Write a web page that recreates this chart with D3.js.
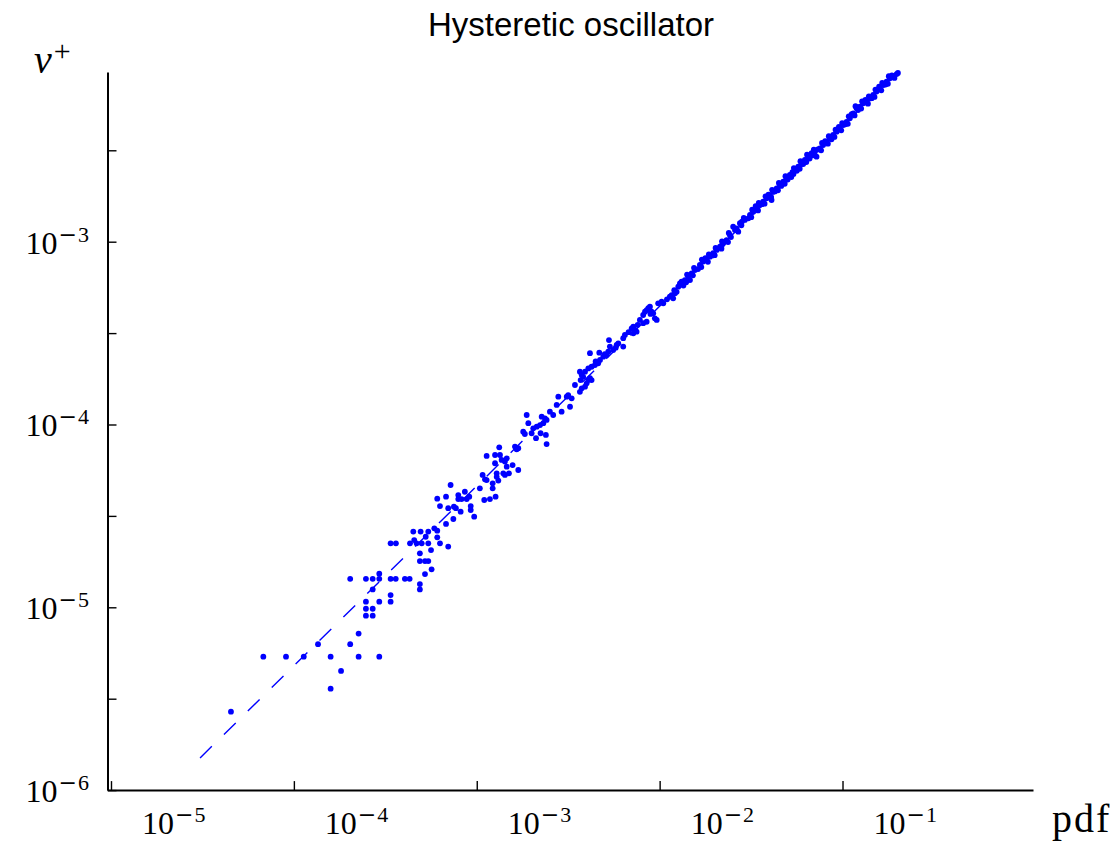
<!DOCTYPE html>
<html>
<head>
<meta charset="utf-8">
<script src="https://cdn.jsdelivr.net/npm/d3@7"></script>
<style>
  body { margin: 0; background: #fff; }
  svg { display: block; }
</style>
</head>
<body>
<svg id="chart" width="1118" height="842"></svg>
<script>
// Sample points as [log10(pdf), log10(nu+)].
// Sparse tail: few crossings, so nu+ is visibly quantised.
const tailPoints = [
  [-4.344,-5.571],[-4.167,-5.270],[-4.043,-5.270],[-3.946,-5.270],[-3.799,-5.270],
  [-3.646,-5.270],[-3.533,-5.270],[-3.742,-5.348],[-3.799,-5.445],[-3.868,-5.202],
  [-3.692,-5.202],[-3.646,-5.144],[-3.606,-5.046],[-3.569,-5.046],[-3.606,-5.008],
  [-3.569,-5.008],[-3.606,-4.969],[-3.533,-4.969],[-3.471,-4.969],[-3.471,-4.933],
  [-3.569,-4.902],[-3.692,-4.844],[-3.606,-4.844],[-3.569,-4.844],[-3.533,-4.844],
  [-3.533,-4.816],[-3.471,-4.844],[-3.443,-4.844],[-3.393,-4.844],[-3.367,-4.844],
  [-3.311,-4.873],[-3.311,-4.902]
];

// Intermediate range: scatter narrows as the crossing count grows.
const midPoints = [
  [-3.283,-4.818],[-3.247,-4.792],[-3.311,-4.747],[-3.283,-4.747],[-3.265,-4.747],
  [-3.311,-4.705],[-3.250,-4.687],[-3.471,-4.650],[-3.442,-4.650],[-3.365,-4.650],
  [-3.329,-4.650],[-3.301,-4.650],[-3.265,-4.650],[-3.347,-4.586],[-3.307,-4.586],
  [-3.265,-4.586],[-3.342,-4.632],[-3.279,-4.614],[-3.232,-4.568],[-3.216,-4.581],
  [-3.216,-4.617],[-3.201,-4.650],[-3.156,-4.668],[-3.168,-4.544],[-3.128,-4.517],
  [-3.201,-4.446],[-3.216,-4.406],[-3.168,-4.395],[-3.143,-4.331],[-3.156,-4.458],
  [-3.125,-4.450],[-3.114,-4.458],[-3.101,-4.386],[-3.101,-4.408],[-3.083,-4.408],
  [-3.065,-4.368],[-3.055,-4.408],[-3.041,-4.395],[-3.088,-4.477],[-3.033,-4.446],
  [-3.033,-4.468],[-3.014,-4.504],[-2.983,-4.349],[-2.968,-4.276],[-2.955,-4.300],
  [-2.946,-4.304],[-2.959,-4.413],[-2.928,-4.408],[-2.897,-4.395],[-2.913,-4.322],
  [-2.913,-4.349],[-2.891,-4.286],[-2.882,-4.307],[-2.891,-4.267],[-2.946,-4.172],
  [-2.900,-4.167],[-2.873,-4.167],[-2.864,-4.194],[-2.900,-4.212],[-2.877,-4.125],
  [-2.846,-4.203],[-2.836,-4.185],[-2.836,-4.231],[-2.855,-4.267],[-2.846,-4.276],
  [-2.824,-4.267],[-2.804,-4.222],[-2.773,-4.249],[-2.791,-4.121],[-2.782,-4.136],
  [-2.773,-4.130],[-2.746,-4.039],[-2.737,-4.052],[-2.718,-3.993],[-2.700,-4.048],
  [-2.691,-4.021],[-2.672,-4.012],[-2.654,-4.003],[-2.636,-3.993],[-2.618,-3.975],
  [-2.676,-4.075],[-2.651,-4.048],[-2.622,-4.057],[-2.618,-4.107],[-2.727,-3.948],
  [-2.645,-3.957],[-2.627,-3.966],[-2.600,-3.930],[-2.582,-3.948],[-2.563,-3.893],
  [-2.554,-3.848],[-2.536,-3.930],[-2.508,-3.848],[-2.500,-3.839],[-2.490,-3.903],
  [-2.481,-3.857],[-2.463,-3.784],[-2.436,-3.821],[-2.426,-3.802],[-2.408,-3.793],
  [-2.399,-3.775],[-2.390,-3.757],[-2.381,-3.747],[-2.372,-3.757],[-2.432,-3.757],
  [-2.436,-3.711],[-2.426,-3.729],[-2.418,-3.739],[-2.408,-3.711],[-2.390,-3.693],
  [-2.372,-3.684],[-2.354,-3.675],[-2.336,-3.665],[-2.381,-3.610],[-2.330,-3.607],
  [-2.326,-3.647],[-2.308,-3.629],[-2.290,-3.620],[-2.281,-3.602],[-2.272,-3.574],
  [-2.277,-3.538],[-2.254,-3.592],[-2.235,-3.565],[-2.226,-3.556],[-2.199,-3.574],
  [-2.199,-3.528],[-2.190,-3.510],[-2.153,-3.474],[-2.144,-3.465],[-2.135,-3.483],
  [-2.126,-3.492],[-2.144,-3.501],[-2.108,-3.428],[-2.090,-3.401],[-2.080,-3.383],
  [-2.071,-3.374],[-2.062,-3.364],[-2.053,-3.356],[-2.044,-3.383],[-2.035,-3.392],
  [-2.026,-3.419],[-2.016,-3.428],[-2.090,-3.446],[-2.071,-3.438],[-2.008,-3.337],
  [-1.989,-3.328],[-1.980,-3.337],[-1.944,-3.301],[-1.934,-3.292],[-1.926,-3.310],
  [-1.916,-3.282],[-1.907,-3.274],[-1.898,-3.246],[-1.889,-3.228],[-1.880,-3.219],
  [-2.350,-3.655],[-2.300,-3.615],[-2.240,-3.580],[-2.170,-3.495],[-2.120,-3.455],
  [-2.050,-3.395],[-1.960,-3.315],[-1.920,-3.265],[-1.870,-3.240]
];

// Dense range: many crossings, points collapse onto a narrow band.
const bandPoints = [
  [-1.862,-3.210],[-1.855,-3.222],[-1.844,-3.191],[-1.850,-3.180],[-1.834,-3.210],
  [-1.825,-3.173],[-1.818,-3.184],[-1.807,-3.155],[-1.812,-3.143],[-1.780,-3.127],
  [-1.772,-3.139],[-1.762,-3.109],[-1.769,-3.098],[-1.743,-3.100],[-1.736,-3.110],
  [-1.725,-3.082],[-1.731,-3.070],[-1.707,-3.063],[-1.699,-3.074],[-1.688,-3.045],
  [-1.694,-3.034],[-1.670,-3.027],[-1.662,-3.038],[-1.652,-3.009],[-1.659,-2.998],
  [-1.634,-2.991],[-1.626,-3.002],[-1.616,-2.963],[-1.622,-2.952],[-1.598,-2.918],
  [-1.579,-2.927],[-1.570,-2.945],[-1.588,-2.936],[-1.561,-2.899],[-1.553,-2.910],
  [-1.534,-2.881],[-1.540,-2.870],[-1.506,-2.854],[-1.499,-2.866],[-1.488,-2.836],
  [-1.494,-2.825],[-1.470,-2.817],[-1.462,-2.829],[-1.452,-2.799],[-1.458,-2.788],
  [-1.434,-2.781],[-1.426,-2.792],[-1.415,-2.763],[-1.421,-2.752],[-1.397,-2.745],
  [-1.390,-2.756],[-1.388,-2.772],[-1.379,-2.727],[-1.385,-2.716],[-1.360,-2.708],
  [-1.353,-2.719],[-1.342,-2.690],[-1.348,-2.679],[-1.324,-2.672],[-1.316,-2.683],
  [-1.306,-2.653],[-1.312,-2.642],[-1.288,-2.635],[-1.280,-2.646],[-1.274,-2.620],
  [-1.268,-2.630],[-1.260,-2.608],[-1.266,-2.597],[-1.242,-2.590],[-1.234,-2.601],
  [-1.224,-2.571],[-1.230,-2.560],[-1.206,-2.553],[-1.198,-2.564],[-1.188,-2.535],
  [-1.194,-2.524],[-1.169,-2.516],[-1.162,-2.527],[-1.151,-2.508],[-1.157,-2.497],
  [-1.142,-2.535],[-1.124,-2.489],[-1.117,-2.500],[-1.106,-2.471],[-1.112,-2.460],
  [-1.087,-2.453],[-1.080,-2.464],[-1.069,-2.434],[-1.075,-2.423],[-1.051,-2.416],
  [-1.044,-2.427],[-1.032,-2.398],[-1.038,-2.387],[-1.014,-2.380],[-1.007,-2.391],
  [-0.996,-2.362],[-1.002,-2.351],[-0.978,-2.344],[-0.971,-2.355],[-0.960,-2.325],
  [-0.966,-2.314],[-0.941,-2.298],[-0.934,-2.309],[-0.923,-2.270],[-0.929,-2.259],
  [-0.905,-2.261],[-0.898,-2.272],[-0.887,-2.243],[-0.893,-2.232],[-0.868,-2.234],
  [-0.861,-2.245],[-0.850,-2.216],[-0.856,-2.205],[-0.832,-2.197],[-0.825,-2.208],
  [-0.814,-2.179],[-0.820,-2.168],[-0.795,-2.161],[-0.788,-2.172],[-0.777,-2.143],
  [-0.783,-2.132],[-0.759,-2.125],[-0.752,-2.136],[-0.741,-2.106],[-0.747,-2.095],
  [-0.723,-2.094],[-0.716,-2.104],[-0.704,-2.083],[-0.697,-2.077],
  [-1.790,-3.150],[-1.750,-3.090],[-1.710,-3.075],[-1.660,-3.020],[-1.610,-2.975],
  [-1.550,-2.890],[-1.515,-2.872],[-1.475,-2.805],[-1.440,-2.795],[-1.405,-2.742],
  [-1.370,-2.725],[-1.335,-2.695],[-1.300,-2.660],[-1.250,-2.612],[-1.215,-2.575],
  [-1.180,-2.545],[-1.135,-2.495],[-1.095,-2.450],[-1.060,-2.440],[-1.020,-2.372],
  [-0.985,-2.358],[-0.950,-2.302],[-0.915,-2.280],[-0.875,-2.225],[-0.840,-2.215],
  [-0.800,-2.152],[-0.765,-2.140],[-0.730,-2.090]
];

// Reference power law through the cloud, given by its log10 end points.
const fitLogPdf = [-4.513, -0.700];
const fitLogNu  = [-5.824, -2.075];

// Axis decorations.
const xTickExps  = [-5, -4, -3, -2, -1];
const yTickExps  = [-6, -5.5, -5, -4.5, -4, -3.5, -3, -2.5];
const yLabelExps = [-6, -5, -4, -3];
const xDomainExps = [-5.0191, 0.0416];
const yDomainExps = [-6, -2.0717];

const titleText = "Hysteretic oscillator";
const xTitleText = "pdf";
const yTitleText = "ν";
const yTitleSup = "+";

const svg = d3.select("#chart");
const plot = { left: 107.5, right: 1033, top: 72, bottom: 790.1 };
const blue = "#0000ff";
const serif = "'Liberation Serif', 'Times New Roman', serif";

const x = d3.scaleLog()
  .domain(xDomainExps.map(e => Math.pow(10, e)))
  .range([plot.left, plot.right]);
const y = d3.scaleLog()
  .domain(yDomainExps.map(e => Math.pow(10, e)))
  .range([plot.bottom, plot.top]);

// Axes: inward ticks, no gridlines.
const xAxis = d3.axisBottom(x)
  .tickValues(xTickExps.map(e => Math.pow(10, e)))
  .tickSizeInner(-9).tickSizeOuter(0).tickFormat(() => "");
const yAxis = d3.axisLeft(y)
  .tickValues(yTickExps.map(e => Math.pow(10, e)))
  .tickSizeInner(-9).tickSizeOuter(0).tickFormat(() => "");

function styleAxis(g) {
  g.select(".domain").attr("stroke", "#000").attr("stroke-width", 2);
  g.selectAll(".tick line").attr("stroke", "#000").attr("stroke-width", 1.4);
}

svg.append("g")
  .attr("transform", `translate(0,${plot.bottom})`)
  .call(xAxis).call(styleAxis);
svg.append("g")
  .attr("transform", `translate(${plot.left},0)`)
  .call(yAxis).call(styleAxis);

// "10^e" labels with a raised exponent.
function powerLabel(text, exp) {
  text.append("tspan").text("10");
  text.append("tspan")
    .attr("dy", -12).attr("dx", 1)
    .attr("font-size", 22)
    .attr("font-family", "'DejaVu Serif', serif")
    .text("\u2212");
  text.append("tspan")
    .attr("dx", 1)
    .attr("font-size", 22)
    .text(String(-exp));
}

svg.append("g").selectAll("text")
  .data(xTickExps)
  .join("text")
  .attr("x", e => x(Math.pow(10, e)) + 31)
  .attr("y", plot.bottom + 44)
  .attr("font-family", serif)
  .attr("font-size", 32)
  .attr("fill", "#000")
  .attr("text-anchor", "start")
  .each(function (e) { powerLabel(d3.select(this), e); });

svg.append("g").selectAll("text")
  .data(yLabelExps)
  .join("text")
  .attr("x", 89)
  .attr("y", e => y(Math.pow(10, e)) + 12)
  .attr("font-family", serif)
  .attr("font-size", 32)
  .attr("fill", "#000")
  .attr("text-anchor", "end")
  .each(function (e) { powerLabel(d3.select(this), e); });

// Axis titles.
const yTitle = svg.append("text")
  .attr("x", 34).attr("y", 73)
  .attr("font-family", serif)
  .attr("font-size", 40)
  .attr("fill", "#000");
yTitle.append("tspan").attr("font-style", "italic").text(yTitleText);
yTitle.append("tspan").attr("dy", -12).attr("dx", 2).attr("font-size", 30).text(yTitleSup);

svg.append("text")
  .attr("x", 1052).attr("y", 832)
  .attr("font-family", serif)
  .attr("font-size", 40)
  .attr("letter-spacing", 2)
  .attr("fill", "#000")
  .text(xTitleText);

svg.append("text")
  .attr("x", 571).attr("y", 36)
  .attr("text-anchor", "middle")
  .attr("font-family", "'Liberation Sans', Arial, sans-serif")
  .attr("font-size", 33)
  .attr("fill", "#000")
  .text(titleText);

// Dashed reference line.
const fit = fitLogPdf.map((p, i) => [Math.pow(10, p), Math.pow(10, fitLogNu[i])]);
svg.append("path")
  .datum(fit)
  .attr("d", d3.line().x(d => x(d[0])).y(d => y(d[1])))
  .attr("fill", "none")
  .attr("stroke", blue)
  .attr("stroke-width", 1.4)
  .attr("stroke-dasharray", "16.5,17");

// Scatter of (pdf, nu+) estimates.
const points = tailPoints.concat(midPoints, bandPoints)
  .map(([lp, ln]) => ({ pdf: Math.pow(10, lp), nu: Math.pow(10, ln) }));
svg.append("g").selectAll("circle")
  .data(points)
  .join("circle")
  .attr("cx", d => x(d.pdf))
  .attr("cy", d => y(d.nu))
  .attr("r", 2.9)
  .attr("fill", blue);
</script>
</body>
</html>
